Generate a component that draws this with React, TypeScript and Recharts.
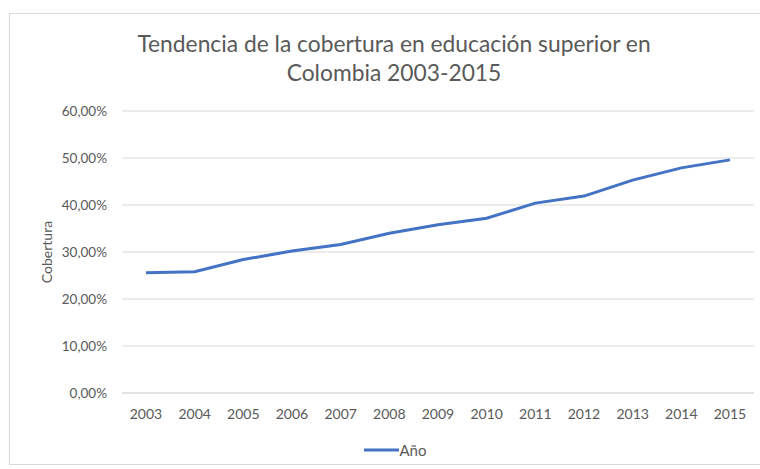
import React from 'react';
import { LineChart, Line, XAxis, YAxis, CartesianGrid, Legend } from 'recharts';

const years = ['2003','2004','2005','2006','2007','2008','2009','2010','2011','2012','2013','2014','2015'];
const coverage = [0.256, 0.258, 0.284, 0.302, 0.316, 0.340, 0.358, 0.372, 0.404, 0.419, 0.453, 0.479, 0.496];
const yTicks = [0, 0.1, 0.2, 0.3, 0.4, 0.5, 0.6];
const titleLines = ['Tendencia de la cobertura en educación superior en', 'Colombia 2003-2015'];
const seriesName = 'Año';
const yLabel = 'Cobertura';

const data = years.map((y, i) => ({ year: y, value: coverage[i] }));

const FONT = 'Lato, "Open Sans", sans-serif';
const TXT = '#595959';
const LINE = '#4472C4';

const fmt = (v: number) => (v * 100).toFixed(2).replace('.', ',') + '%';

const LegendContent = () => (
  <div style={{ display: 'flex', alignItems: 'center', justifyContent: 'center', paddingLeft: 0 }}>
    <svg width={35} height={10} style={{ display: 'block' }}>
      <line x1={0} y1={5} x2={35} y2={5} stroke={LINE} strokeWidth={3} />
    </svg>
    <span style={{ fontFamily: FONT, fontSize: 15, color: TXT, marginLeft: 1, lineHeight: '18px' }}>{seriesName}</span>
  </div>
);

export default function App() {
  return (
    <div style={{ position: 'absolute', left: 0, top: 0, width: 760, height: 469, background: '#fff', fontFamily: FONT }}>
      <div style={{ position: 'absolute', left: 9, top: 13, width: 760, height: 452, border: '1px solid #d9d9d9', boxSizing: 'border-box' }} />
      <div style={{ position: 'absolute', left: 0, top: 0 }}>
        <LineChart width={760} height={469} data={data} margin={{ top: 111, right: 6, left: 36, bottom: 28 }}>
          <text x={394} y={52} textAnchor="middle" fill={TXT} fontSize={22.8} fontFamily={FONT}>{titleLines[0]}</text>
          <text x={394} y={81} textAnchor="middle" fill={TXT} fontSize={22.8} fontFamily={FONT}>{titleLines[1]}</text>
          <CartesianGrid vertical={false} stroke="#d9d9d9" strokeWidth={1} />
          <XAxis dataKey="year" axisLine={{ stroke: '#d9d9d9' }} tickLine={false} tickSize={0} tickMargin={16}
            padding={{ left: 24, right: 24 }}
            tick={{ fill: TXT, fontSize: 14, fontFamily: FONT }} interval={0} />
          <YAxis width={86} domain={[0, 0.6]} ticks={yTicks} tickFormatter={fmt} axisLine={false} tickLine={false}
            tickSize={0} tickMargin={15} tick={{ fill: TXT, fontSize: 13.5, fontFamily: FONT }}
            label={{ value: yLabel, angle: -90, position: 'insideLeft', offset: 11, style: { textAnchor: 'middle', fill: TXT, fontSize: 14, fontFamily: FONT } }} />
          <Legend verticalAlign="bottom" content={LegendContent}
            wrapperStyle={{ top: 441 }} />
          <Line type="linear" dataKey="value" name={seriesName} stroke={LINE} strokeWidth={3} dot={false} isAnimationActive={false} />
        </LineChart>
      </div>
    </div>
  );
}
